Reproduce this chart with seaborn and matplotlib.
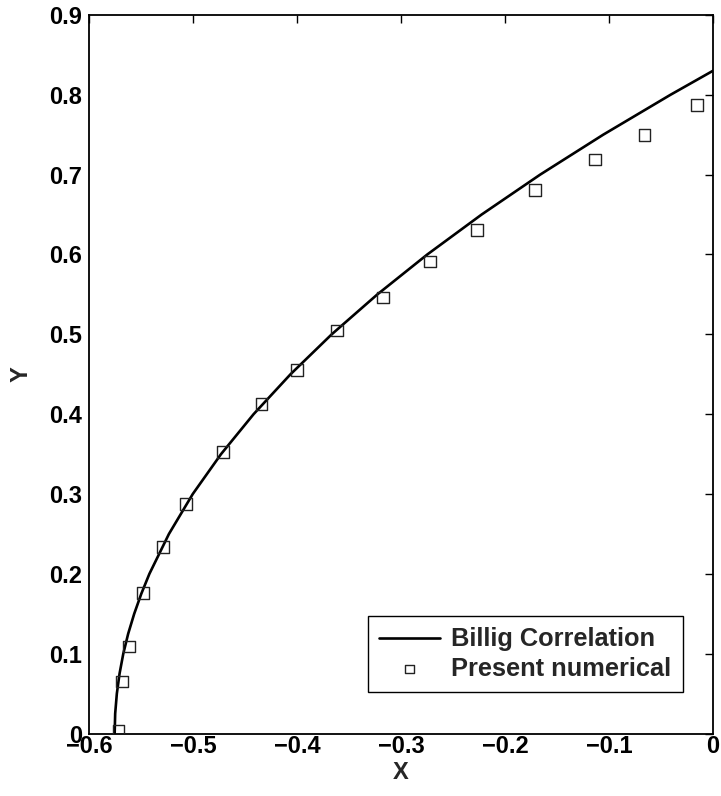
import matplotlib
matplotlib.use("Agg")
import matplotlib.pyplot as plt
import seaborn as sns
import pandas as pd

# Billig correlation shock-shape curve (X, Y)
billig_y = [0.000, 0.025, 0.050, 0.075, 0.100, 0.125, 0.150, 0.175, 0.200,
            0.250, 0.300, 0.350, 0.400, 0.450, 0.500, 0.550, 0.600, 0.650,
            0.700, 0.750, 0.800, 0.8301]
billig_x = [-0.5753, -0.5748, -0.5732, -0.5706, -0.5670, -0.5623, -0.5565,
            -0.5497, -0.5419, -0.5231, -0.5002, -0.4730, -0.4417, -0.4062,
            -0.3666, -0.3227, -0.2747, -0.2225, -0.1662, -0.1056, -0.0409,
            0.0000]

# Present numerical shock locations
num_x = [-0.5715, -0.5680, -0.5615, -0.5480, -0.5290, -0.5070, -0.4710,
         -0.4340, -0.4000, -0.3615, -0.3170, -0.2720, -0.2270, -0.1710,
         -0.1135, -0.0660, -0.0155]
num_y = [0.0040, 0.0650, 0.1090, 0.1760, 0.2340, 0.2875, 0.3525,
         0.4125, 0.4550, 0.5050, 0.5460, 0.5910, 0.6310, 0.6810,
         0.7190, 0.7500, 0.7875]

x_ticks = [-0.6, -0.5, -0.4, -0.3, -0.2, -0.1, 0.0]
x_tick_labels = ["\u22120.6", "\u22120.5", "\u22120.4", "\u22120.3", "\u22120.2", "\u22120.1", "0"]
y_ticks = [0.0, 0.1, 0.2, 0.3, 0.4, 0.5, 0.6, 0.7, 0.8, 0.9]
y_tick_labels = ["0", "0.1", "0.2", "0.3", "0.4", "0.5", "0.6", "0.7", "0.8", "0.9"]

sns.set_style("white")
plt.rcParams["font.family"] = ["Liberation Sans", "DejaVu Sans"]
plt.rcParams["font.weight"] = "bold"

curve = pd.DataFrame({"X": billig_x, "Y": billig_y})
points = pd.DataFrame({"X": num_x, "Y": num_y})

fig = plt.figure(figsize=(7.21, 7.96), dpi=100)
ax = fig.add_axes([0.1234, 0.0785, 0.8655, 0.9027])

sns.lineplot(data=curve, x="X", y="Y", sort=False, color="black",
             linewidth=1.9, label="Billig Correlation", ax=ax)
sns.scatterplot(data=points, x="X", y="Y", marker="s", s=70,
                facecolor="none", edgecolor="#222222", linewidth=1.0,
                label="Present numerical", ax=ax, zorder=3)

ax.set_xlim(-0.6, 0.0)
ax.set_ylim(0.0, 0.9)
ax.set_xticks(x_ticks)
ax.set_xticklabels(x_tick_labels)
ax.set_yticks(y_ticks)
ax.set_yticklabels(y_tick_labels)

ax.tick_params(direction="in", length=6, width=1.0, labelsize=17,
               top=True, right=True, colors="black")
ax.tick_params(axis="x", pad=1)
ax.tick_params(axis="y", pad=5)
for lab in ax.get_xticklabels() + ax.get_yticklabels():
    lab.set_fontweight("bold")

for side in ax.spines.values():
    side.set_visible(True)
    side.set_color("black")
    side.set_linewidth(1.3)

ax.set_xlabel("X", fontsize=17, fontweight="bold")
ax.set_ylabel("Y", fontsize=17, fontweight="bold")
ax.xaxis.set_label_coords(0.5, -0.038)
ax.yaxis.set_label_coords(-0.09, 0.5)

leg = ax.legend(loc="lower right", bbox_to_anchor=(0.952, 0.0578),
                prop={"weight": "bold", "size": 18.3},
                frameon=True, fancybox=False, edgecolor="black",
                framealpha=1.0, borderpad=0.45, labelspacing=0.2,
                handlelength=2.4, handletextpad=0.45, markerscale=0.7,
                borderaxespad=0.0)
leg.get_frame().set_linewidth(1.0)

fig.savefig("out.png", dpi=100, facecolor="white")
